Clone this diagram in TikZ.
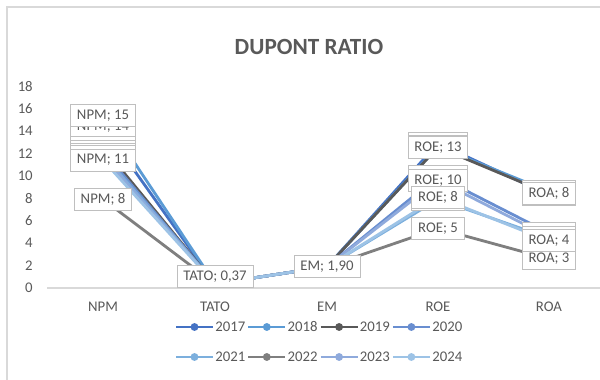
\documentclass[tikz,border=0pt]{standalone}
\usepackage{fontspec}
\setmainfont{Carlito}
\usetikzlibrary{positioning}
\usepackage{xcolor}
\definecolor{txt}{HTML}{595959}
\definecolor{rule}{HTML}{D9D9D9}
\definecolor{boxline}{HTML}{BFBFBF}
\definecolor{y2017}{HTML}{4472C4}
\definecolor{y2018}{HTML}{5B9BD5}
\definecolor{y2019}{HTML}{595959}
\definecolor{y2020}{HTML}{698ED0}
\definecolor{y2021}{HTML}{7CAFDD}
\definecolor{y2022}{HTML}{7F7F7F}
\definecolor{y2023}{HTML}{8FAADC}
\definecolor{y2024}{HTML}{9DC3E6}

% whole number in the text font
\newcommand{\roundval}[1]{\pgfmathtruncatemacro\rv{round(#1)}\rv}
% year / NPM / ROE / ROA  (TATO and EM are the same every year)
\newcommand{\dupontdata}{2017/14.4/12.9/8.3, 2018/15.4/12.6/8.6, 2019/12.55/12.55/8.4,
  2020/12.2/9.95/4.9, 2021/11.9/7.9/4.45, 2022/7.9/5.3/2.6, 2023/11.7/9.6/4.55,
  2024/11.4/8.1/4.2}

\tikzset{
  series/.style={line width=2pt, line join=round, line cap=round},
  datalbl/.style={draw=boxline, fill=white, line width=0.6pt, text=txt,
    font=\fontsize{10.5}{12.6}\selectfont, inner xsep=4.5pt, inner ysep=0pt,
    minimum height=15.6pt},
  axislbl/.style={text=txt, font=\fontsize{10.5}{12.6}\selectfont, inner sep=0pt},
}

\begin{document}
\begin{tikzpicture}[x=0.025cm, y=-0.025cm]
  \useasboundingbox (0,0) rectangle (600,380);
  \draw[rule, line width=1pt] (7,380) |- (600,7);

  \node[text=txt, font=\bfseries\fontsize{16.5}{19}\selectfont] (title) at (309,47) {DUPONT RATIO};

  % value axis and categories
  \foreach \v in {0,2,...,18}
    \node[axislbl, anchor=east] (tick-\v) at (33,{288-11.22*\v}) {\v};
  \coordinate (axis-l) at (47,288);
  \coordinate (axis-r) at (600,288);
  \draw[rule, line width=0.8pt] (axis-l) -- (axis-r);
  \foreach \c/\x in {NPM/103,TATO/215,EM/327,ROE/438,ROA/549}
    \node[axislbl] (cat-\c) at (\x,307) {\c};

  % one line per year
  \foreach \yr/\npm/\roe/\roa in \dupontdata {
    \coordinate (npm-\yr) at (103,{288-11.22*\npm});
    \coordinate (tato-\yr) at (215,{288-11.22*0.37});
    \coordinate (em-\yr) at (327,{288-11.22*1.90});
    \coordinate (roe-\yr) at (438,{288-11.22*\roe});
    \coordinate (roa-\yr) at (549,{288-11.22*\roa});
    \draw[series, y\yr] (npm-\yr) -- (tato-\yr) -- (em-\yr) -- (roe-\yr) -- (roa-\yr);
  }

  % data labels on top of all lines
  \foreach \yr/\npm/\roe/\roa in \dupontdata {
    \node[datalbl] (lbl-npm-\yr) at (npm-\yr) {NPM; \roundval{\npm}};
    \node[datalbl, anchor=south] (lbl-tato-\yr) at (tato-\yr |- axis-l) {TATO; 0,37};
    \node[datalbl] (lbl-em-\yr) at (em-\yr) {EM; 1,90};
    \node[datalbl] (lbl-roe-\yr) at (roe-\yr) {ROE; \roundval{\roe}};
    \node[datalbl] (lbl-roa-\yr) at (roa-\yr) {ROA; \roundval{\roa}};
  }

  % legend
  \foreach \yr [count=\i from 0] in {2017,2018,2019,2020,2021,2022,2023,2024} {
    \pgfmathsetmacro\lx{176+72.3*mod(\i,4)}
    \pgfmathsetmacro\ly{327+30*int(\i/4)}
    \coordinate (key-\yr-a) at (\lx,\ly);
    \coordinate (key-\yr-b) at ({\lx+37},\ly);
    \draw[series, line cap=butt, y\yr] (key-\yr-a) -- (key-\yr-b);
    \fill[y\yr] ({\lx+18.5},\ly) circle[radius=2.8pt];
    \node[axislbl, anchor=west, inner xsep=1.5pt] (keytxt-\yr) at (key-\yr-b) {\yr};
  }
\end{tikzpicture}
\end{document}
